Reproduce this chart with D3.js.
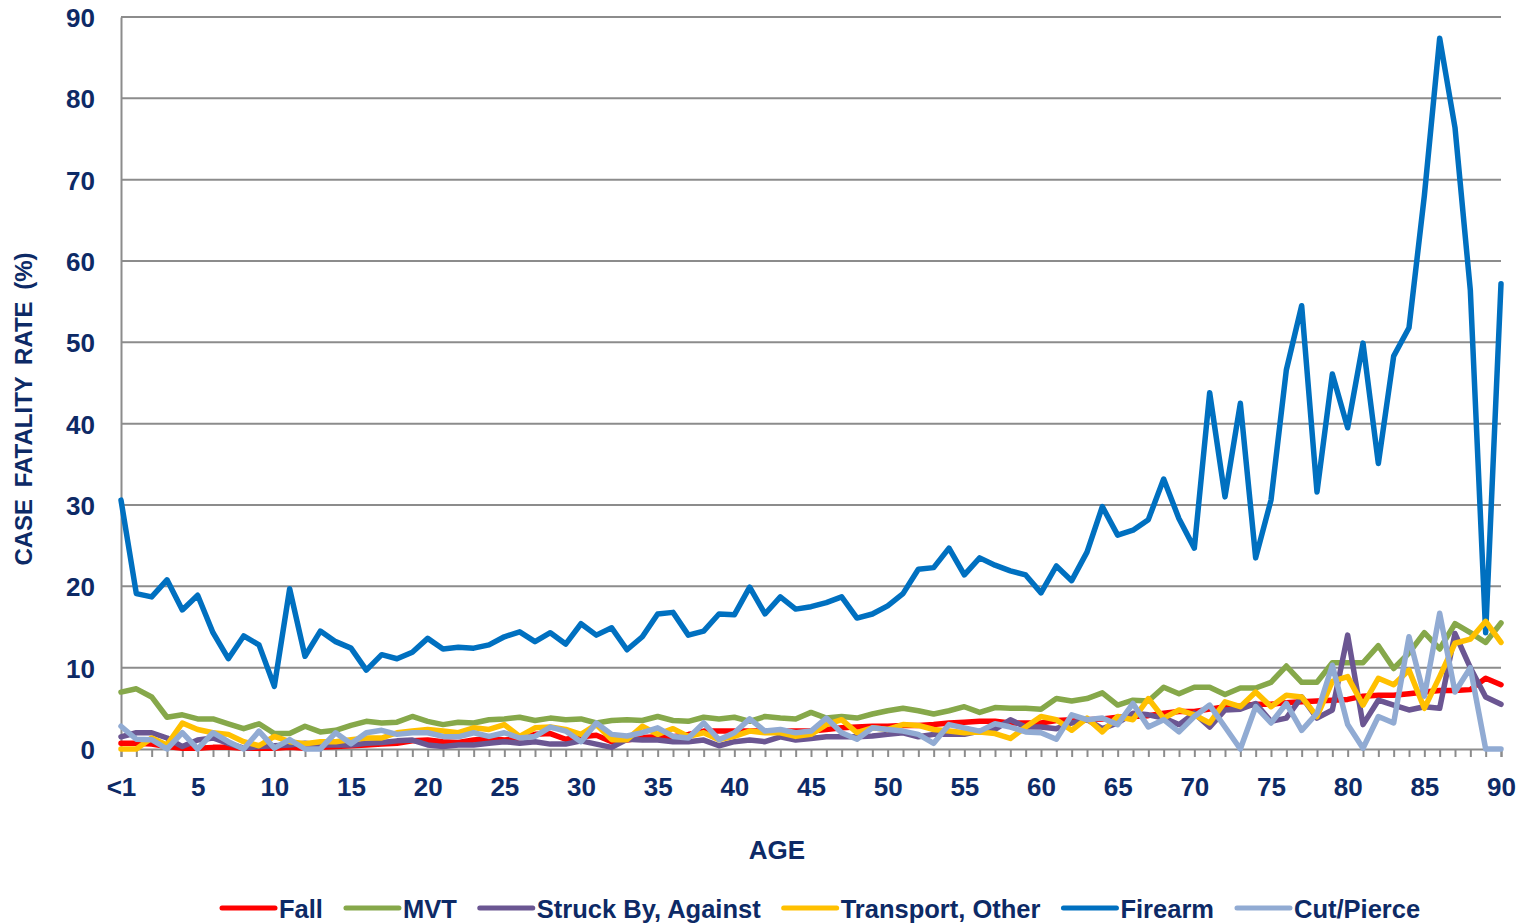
<!DOCTYPE html>
<html>
<head>
<meta charset="utf-8">
<script src="https://cdn.jsdelivr.net/npm/d3@7"></script>
<style>
  body { margin: 0; background: #fff; }
  svg text { font-family: "Liberation Sans Narrow", "Arial Narrow", "Liberation Sans", sans-serif; font-weight: bold; fill: #0d2a66; }
</style>
</head>
<body>
<script>
// Ages 0..90, "<1" shown for 0
const ages = d3.range(0, 91);
const yTicks = d3.range(0, 91, 10);

const fall = [0.7,0.7,0.6,0.3,0.1,0.1,0.2,0.2,0.1,0.1,
  0.1,0.2,0.1,0.2,0.3,0.4,0.5,0.6,0.7,1.0,
  1.1,0.9,0.8,1.1,1.3,1.1,1.3,1.8,1.9,1.2,
  1.5,1.7,0.9,1.1,1.4,1.5,1.5,1.8,2.2,2.2,
  2.2,2.2,2.2,2.2,2.2,2.2,2.4,2.6,2.7,2.8,
  2.8,2.9,2.9,3.0,3.2,3.3,3.4,3.4,3.2,3.2,
  3.2,3.5,3.6,3.6,3.7,3.9,4.0,4.1,4.4,4.6,
  4.6,4.9,5.2,5.3,5.5,5.5,5.7,5.8,5.9,6.0,
  6.1,6.5,6.6,6.6,6.8,7.0,7.2,7.2,7.3,8.7,7.9];

const mvt = [7.0,7.4,6.4,3.9,4.2,3.7,3.7,3.1,2.5,3.1,
  1.9,1.9,2.8,2.1,2.3,2.9,3.4,3.2,3.3,4.0,
  3.4,3.0,3.3,3.2,3.6,3.7,3.9,3.5,3.8,3.6,
  3.7,3.2,3.5,3.6,3.5,4.0,3.5,3.4,3.9,3.7,
  3.9,3.4,4.0,3.8,3.7,4.5,3.8,4.0,3.8,4.3,
  4.7,5.0,4.7,4.3,4.7,5.2,4.5,5.1,5.0,5.0,
  4.9,6.2,5.9,6.2,6.9,5.4,6.0,5.9,7.6,6.8,
  7.6,7.6,6.7,7.5,7.5,8.2,10.2,8.2,8.2,10.6,
  10.6,10.6,12.7,9.9,11.8,14.3,12.3,15.4,14.3,13.1,15.5];

const struckBy = [1.5,2.0,2.0,1.35,0.3,1.1,1.35,0.7,0.1,0.3,
  0.4,0.5,0.7,0.5,0.5,0.5,0.7,0.8,1.0,1.1,
  0.5,0.3,0.5,0.5,0.7,0.9,0.7,0.9,0.6,0.6,
  1.0,0.6,0.2,1.2,1.1,1.1,0.9,0.9,1.1,0.4,
  0.9,1.1,0.9,1.5,1.1,1.3,1.5,1.5,1.5,1.6,
  1.8,2.0,1.5,1.8,1.8,1.8,2.2,2.4,3.6,2.7,
  2.7,2.5,3.2,3.6,2.5,3.2,4.4,4.2,3.8,3.0,
  4.4,2.7,4.8,4.9,5.6,3.4,3.8,6.4,3.8,4.8,
  14.0,3.0,6.0,5.4,4.8,5.2,5.0,14.2,10.0,6.4,5.5];

const transport = [0,0,1.35,0.5,3.2,2.4,2.0,1.8,0.9,0.4,
  1.55,0.9,0.65,0.9,0.9,1.15,1.35,1.35,2.0,2.2,
  2.4,2.2,2.0,2.6,2.4,3.0,1.55,2.6,2.7,2.4,
  1.8,3.0,1.15,1.15,2.8,1.8,2.5,1.55,2.0,1.15,
  1.55,2.2,2.0,2.0,1.55,1.8,3.0,3.6,2.0,2.6,
  2.4,3.0,2.9,2.4,2.2,2.0,2.1,1.9,1.3,2.7,
  4.0,3.6,2.3,3.8,2.1,4.0,3.6,6.2,3.8,4.8,
  4.2,3.2,5.8,5.2,7.0,5.2,6.6,6.4,4.0,8.3,
  8.9,5.4,8.7,7.9,9.7,5.0,8.9,13.0,13.5,15.7,13.1];

const firearm = [30.6,19.1,18.7,20.8,17.1,18.9,14.3,11.1,13.9,12.8,
  7.7,19.7,11.4,14.5,13.2,12.4,9.7,11.6,11.1,11.9,
  13.6,12.3,12.5,12.4,12.8,13.8,14.4,13.2,14.3,12.9,
  15.4,14.0,14.9,12.2,13.8,16.6,16.8,14.0,14.5,16.6,
  16.5,19.9,16.6,18.7,17.2,17.5,18.0,18.7,16.1,16.6,
  17.6,19.1,22.1,22.3,24.7,21.4,23.5,22.6,21.9,21.4,
  19.2,22.5,20.7,24.2,29.8,26.3,26.9,28.2,33.2,28.3,
  24.7,43.8,31.0,42.5,23.5,30.6,46.6,54.5,31.6,46.1,
  39.5,49.9,35.1,48.3,51.8,68.0,87.4,76.4,56.4,14.3,57.2];

const cutPierce = [2.8,1.2,1.15,0,2.0,0,2.0,0.9,0,2.2,
  0.1,1.15,0,0,2.0,0.65,2.0,2.3,1.8,2.0,
  2.0,1.55,1.5,2.0,1.55,2.0,1.35,1.55,2.7,2.2,
  0.9,3.2,1.8,1.6,2.0,2.6,1.55,1.35,3.2,1.15,
  2.0,3.7,2.2,2.4,2.0,2.2,3.8,2.0,1.2,2.6,
  2.4,2.2,1.8,0.7,3.0,2.6,2.2,3.1,2.7,2.1,
  2.0,1.2,4.2,3.6,3.8,3.0,5.6,2.7,3.6,2.1,
  4.0,5.4,2.7,0,5.2,3.2,5.6,2.3,4.4,10.3,
  3.0,0.1,4.0,3.2,13.8,6.5,16.7,7.0,10.0,0,0];

const seriesNames = ['Fall', 'MVT', 'Struck By, Against', 'Transport, Other', 'Firearm', 'Cut/Pierce'];
const seriesValues = [fall, mvt, struckBy, transport, firearm, cutPierce];
const seriesColors = ['#ff0000', '#86a84a', '#6b5692', '#ffc000', '#0070c0', '#91abd3'];

// Drawing order: firearm behind the small series like the original
const drawOrder = [4, 1, 0, 2, 3, 5];

const W = 1524, H = 924;
const plot = { left: 121, right: 1501, top: 17, bottom: 749 };

const svg = d3.select('body')
  .append('svg')
  .attr('width', W)
  .attr('height', H);

const x = d3.scaleLinear().domain([0, 90]).range([plot.left, plot.right]);
const y = d3.scaleLinear().domain([0, 90]).range([plot.bottom, plot.top]);

// Gridlines
svg.append('g')
  .selectAll('line')
  .data(yTicks.filter(d => d > 0))
  .enter()
  .append('line')
  .attr('x1', plot.left)
  .attr('x2', plot.right)
  .attr('y1', d => y(d))
  .attr('y2', d => y(d))
  .attr('stroke', '#8c8c8c')
  .attr('stroke-width', 2);

// Y axis
const yAxis = svg.append('g')
  .attr('transform', `translate(${plot.left},0)`)
  .call(d3.axisLeft(y).tickValues(yTicks).tickSize(0).tickPadding(26));
yAxis.select('.domain').attr('stroke', '#8c8c8c').attr('stroke-width', 2);
yAxis.selectAll('text').style('font-size', '26px').attr('dy', '0.36em');

// X axis with a tick at each age, labels every 5
const xAxis = svg.append('g')
  .attr('transform', `translate(0,${plot.bottom})`)
  .call(d3.axisBottom(x).tickValues(ages).tickSize(8).tickFormat(d => d % 5 === 0 ? (d === 0 ? '<1' : d) : ''));
xAxis.select('.domain').attr('stroke', '#8c8c8c').attr('stroke-width', 2);
xAxis.selectAll('.tick line').attr('stroke', '#8c8c8c').attr('stroke-width', 2);
xAxis.selectAll('text').style('font-size', '26px').attr('y', 29);

// Lines
const line = d3.line()
  .x((d, i) => x(ages[i]))
  .y(d => y(d))
  .curve(d3.curveLinear);

svg.append('g')
  .selectAll('path')
  .data(drawOrder)
  .enter()
  .append('path')
  .attr('d', i => line(seriesValues[i]))
  .attr('fill', 'none')
  .attr('stroke', i => seriesColors[i])
  .attr('stroke-width', 5.5)
  .attr('stroke-linejoin', 'round')
  .attr('stroke-linecap', 'round');

// Axis titles
svg.append('text')
  .attr('x', 777)
  .attr('y', 859)
  .attr('text-anchor', 'middle')
  .style('font-size', '26px')
  .text('AGE');

svg.append('text')
  .attr('transform', 'translate(32,409) rotate(-90)')
  .attr('text-anchor', 'middle')
  .style('font-size', '24px')
  .style('word-spacing', '5px')
  .text('CASE FATALITY RATE (%)');

// Legend
const legend = svg.append('g').attr('transform', 'translate(0,908)');
let lx = 222;
seriesNames.forEach((name, i) => {
  const item = legend.append('g').attr('transform', `translate(${lx},0)`);
  item.append('line')
    .attr('x1', 0).attr('x2', 53)
    .attr('y1', 0).attr('y2', 0)
    .attr('stroke', seriesColors[i])
    .attr('stroke-width', 5)
    .attr('stroke-linecap', 'round');
  const t = item.append('text')
    .attr('x', 57)
    .attr('y', 10)
    .style('font-size', '25.5px')
    .text(name);
  lx += 57 + t.node().getComputedTextLength() + 23;
});
</script>
</body>
</html>
